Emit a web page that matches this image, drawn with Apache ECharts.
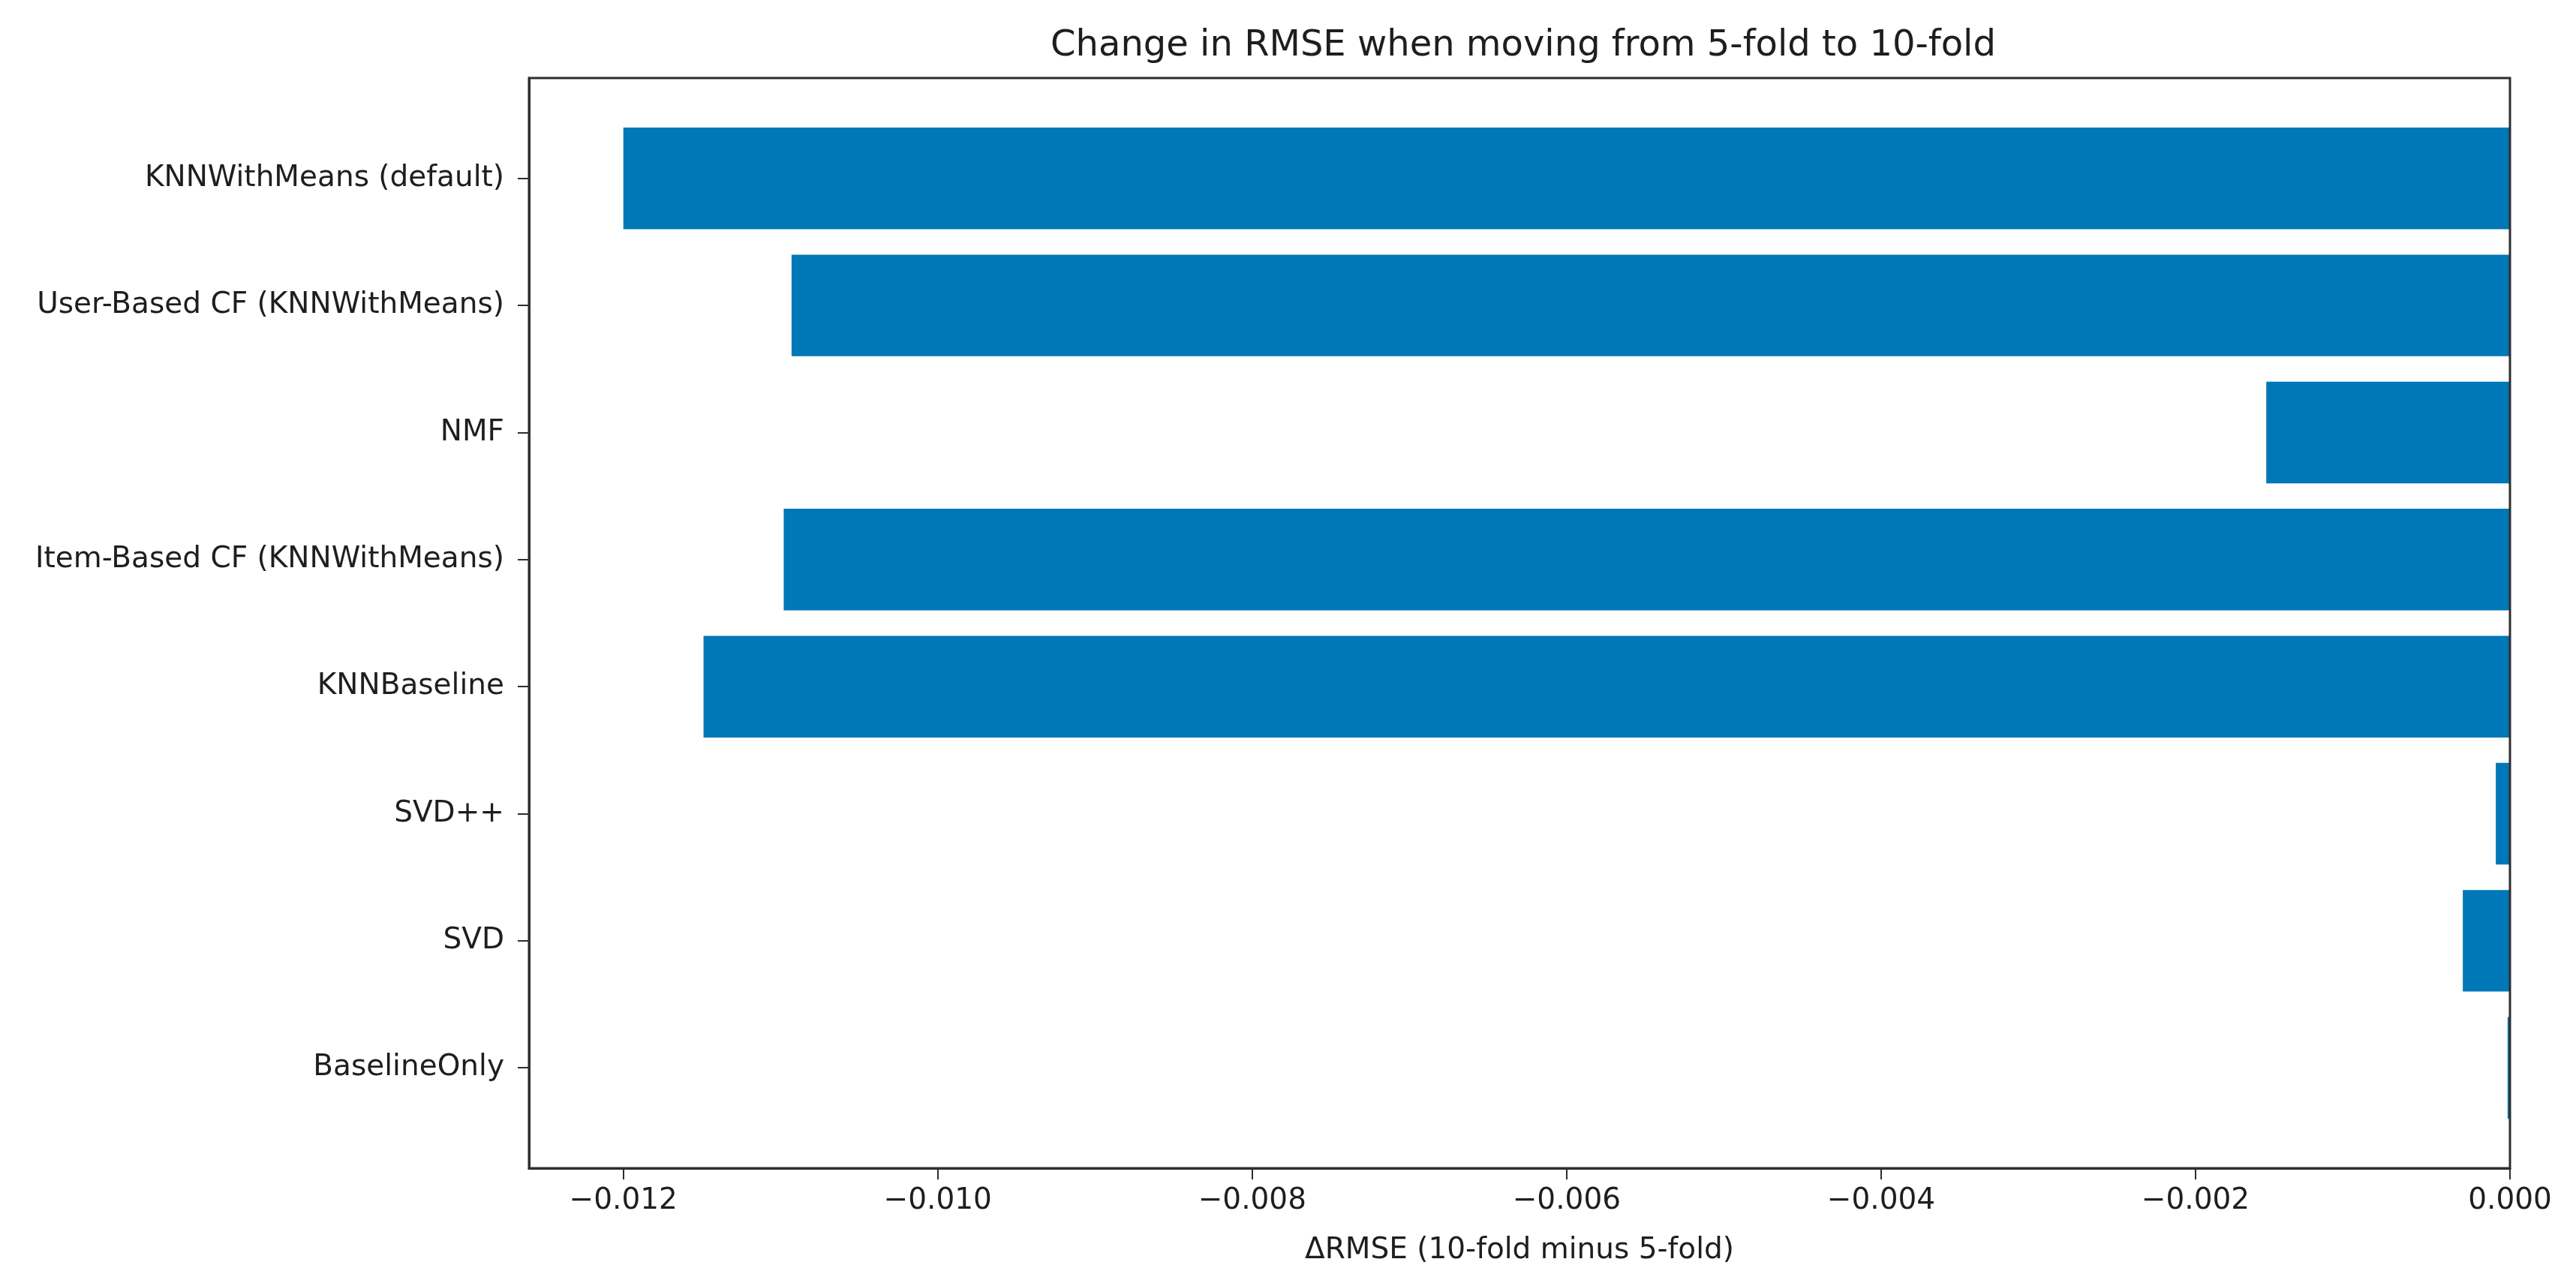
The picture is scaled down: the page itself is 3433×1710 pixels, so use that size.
<!DOCTYPE html>
<html>
<head>
<meta charset="utf-8">
<script src="https://cdn.jsdelivr.net/npm/echarts@6/dist/echarts.min.js"></script>
<style>
  html, body { margin: 0; padding: 0; background: #ffffff; }
  #chart { width: 3433px; height: 1710px; }
</style>
</head>
<body>
<div id="chart"></div>
<script>
// Categories listed bottom-to-top (matplotlib barh order)
const categories = [
  'BaselineOnly',
  'SVD',
  'SVD++',
  'KNNBaseline',
  'Item-Based CF (KNNWithMeans)',
  'NMF',
  'User-Based CF (KNNWithMeans)',
  'KNNWithMeans (default)'
];
// ΔRMSE (10-fold minus 5-fold)
const rmseDelta = [-0.000015, -0.00030, -0.00009, -0.01149, -0.01098, -0.00155, -0.01093, -0.01200];
// x tick values
const xTicks = [-0.012, -0.010, -0.008, -0.006, -0.004, -0.002, 0.000];
const xMin = -0.0126;
const xMax = 0;

const FONT = 'DejaVu Sans';
const TEXT = '#1e1e1e';
const SPINE = '#2e2e2e';

function fmtTick(v) {
  const a = Math.abs(v).toFixed(3);
  return (v < -1e-12 ? '\u2212' : '') + a;
}

const chart = echarts.init(document.getElementById('chart'), null, { renderer: 'canvas' });

chart.setOption({
  backgroundColor: '#ffffff',
  animation: false,
  title: {
    text: 'Change in RMSE when moving from 5-fold to 10-fold',
    left: 2025,
    top: 33,
    textAlign: 'center',
    textStyle: { fontFamily: FONT, fontSize: 48, fontWeight: 'normal', color: TEXT }
  },
  grid: [
    { // frame grid (spines + x axis)
      left: 705, right: 88, top: 104, bottom: 153,
      show: true, borderColor: SPINE, borderWidth: 3, backgroundColor: 'transparent',
      z: 5
    },
    { // bar grid (inner category band region)
      left: 705, right: 88, top: 153.1, bottom: 202.1,
      z: 1
    }
  ],
  xAxis: [
    {
      gridIndex: 0, type: 'value', min: xMin, max: xMax, z: 5,
      name: '\u0394RMSE (10-fold minus 5-fold)',
      nameLocation: 'middle', nameGap: 90,
      nameTextStyle: { fontFamily: FONT, fontSize: 39, color: TEXT },
      axisLine: { show: true, onZero: false, lineStyle: { color: SPINE, width: 3 } },
      axisTick: { show: true, length: 15, inside: false, customValues: xTicks, lineStyle: { color: SPINE, width: 2 } },
      axisLabel: { show: true, customValues: xTicks, formatter: fmtTick, margin: 24,
                   fontFamily: FONT, fontSize: 39, color: TEXT },
      splitLine: { show: false }
    },
    {
      gridIndex: 1, type: 'value', min: xMin, max: xMax, show: false,
      axisLine: { onZero: false },
      splitLine: { show: false }
    }
  ],
  yAxis: [
    {
      gridIndex: 0, type: 'value', min: 0, max: 1, z: 5,
      axisLine: { show: true, onZero: false, lineStyle: { color: SPINE, width: 3 } },
      axisTick: { show: false },
      axisLabel: { show: false },
      splitLine: { show: false }
    },
    {
      gridIndex: 1, type: 'category', data: categories, position: 'left',
      axisLine: { show: false, onZero: false },
      axisTick: { show: true, alignWithLabel: true, length: 15, lineStyle: { color: SPINE, width: 2 } },
      axisLabel: { show: true, margin: 33, fontFamily: FONT, fontSize: 39, color: TEXT },
      splitLine: { show: false }
    }
  ],
  series: [
    {
      type: 'bar',
      xAxisIndex: 1, yAxisIndex: 1,
      data: rmseDelta,
      barWidth: '80%',
      itemStyle: { color: '#0077b6' },
      z: 2
    }
  ]
});
</script>
</body>
</html>
